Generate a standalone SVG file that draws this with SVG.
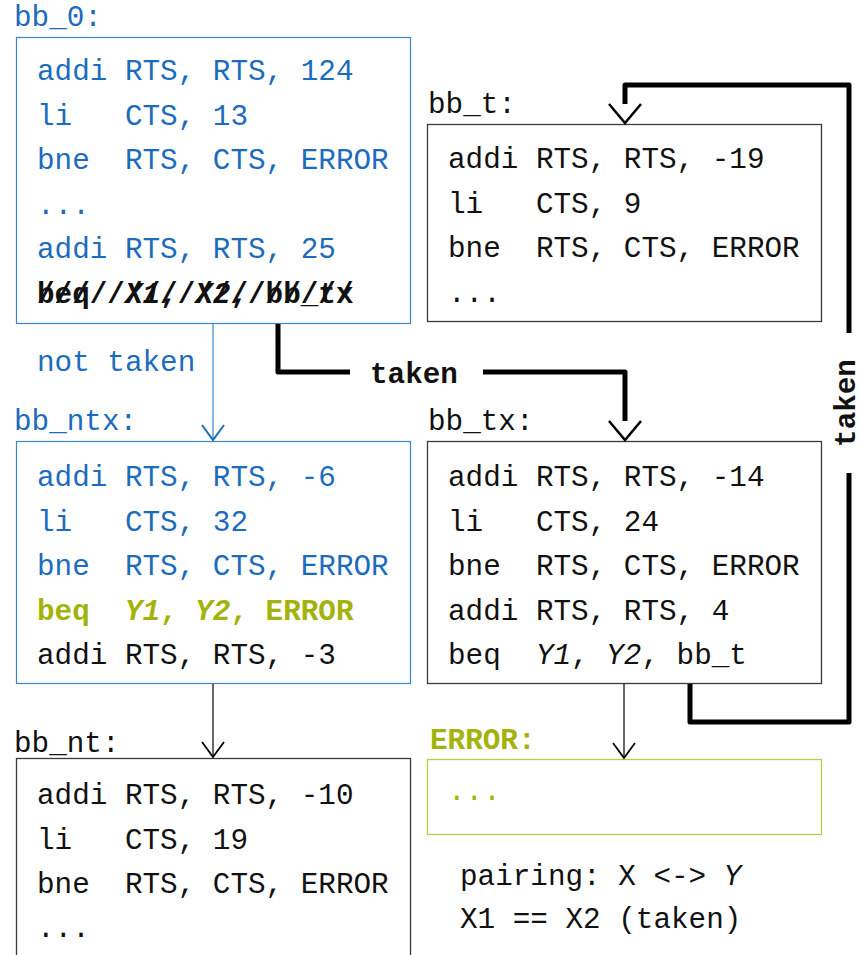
<svg xmlns="http://www.w3.org/2000/svg" width="862" height="955" viewBox="0 0 862 955">
<style>
text{font-family:"Liberation Mono","DejaVu Sans Mono",monospace;font-size:29.3px;white-space:pre;fill:#111}
.b{fill:#1c6bbd}
.g{fill:#a3b30d;font-weight:bold}
.bold{font-weight:bold}
.it{font-style:italic}
.box{fill:#fff;stroke:#3a3a3a;stroke-width:1.3}
.bbox{fill:#fff;stroke:#3a85cf;stroke-width:1.2}
.gbox{fill:#fff;stroke:#bccb4a;stroke-width:1.3}
.thick{fill:none;stroke:#000;stroke-width:5;stroke-linejoin:round}
.thin{fill:none;stroke:#000;stroke-width:1.2}
.head{fill:none;stroke:#000;stroke-width:2.5}
.headthin{fill:none;stroke:#000;stroke-width:1.8}
</style>
<rect width="862" height="955" fill="#fff"/>

<g id="bb_0">
<text class="b" x="14" y="26">bb_0:</text>
<rect class="bbox" x="16.5" y="37.5" width="394" height="286"/>
<text class="b" x="37" y="80">addi RTS, RTS, 124</text>
<text class="b" x="37" y="124.5">li   CTS, 13</text>
<text class="b" x="37" y="169">bne  RTS, CTS, ERROR</text>
<text class="b" x="37" y="213.5">...</text>
<text class="b" x="37" y="258">addi RTS, RTS, 25</text>
<text class="bold" x="37" y="302.5">beq  <tspan class="it">X1</tspan>, <tspan class="it">X2</tspan>, bb_tx<tspan x="37">//////////////////</tspan></text>
</g>

<g id="bb_t">
<text x="428" y="113">bb_t:</text>
<rect class="box" x="427.5" y="124.5" width="394" height="197"/>
<text x="448" y="168">addi RTS, RTS, -19</text>
<text x="448" y="212.5">li   CTS, 9</text>
<text x="448" y="257">bne  RTS, CTS, ERROR</text>
<text x="448" y="301.5">...</text>
</g>

<g id="bb_ntx">
<text class="b" x="14" y="430">bb_ntx:</text>
<rect class="bbox" x="16.5" y="441.5" width="394" height="242"/>
<text class="b" x="37" y="486">addi RTS, RTS, -6</text>
<text class="b" x="37" y="530.5">li   CTS, 32</text>
<text class="b" x="37" y="575">bne  RTS, CTS, ERROR</text>
<text class="g" x="37" y="619.5">beq  <tspan class="it">Y1</tspan>, <tspan class="it">Y2</tspan>, ERROR</text>
<text x="37" y="664">addi RTS, RTS, -3</text>
</g>

<g id="bb_tx">
<text x="428" y="430">bb_tx:</text>
<rect class="box" x="427.5" y="441.5" width="394" height="242"/>
<text x="448" y="486">addi RTS, RTS, -14</text>
<text x="448" y="530.5">li   CTS, 24</text>
<text x="448" y="575">bne  RTS, CTS, ERROR</text>
<text x="448" y="619.5">addi RTS, RTS, 4</text>
<text x="448" y="664">beq  <tspan class="it">Y1</tspan>, <tspan class="it">Y2</tspan>, bb_t</text>
</g>

<g id="bb_nt">
<text x="14" y="752">bb_nt:</text>
<rect class="box" x="16.5" y="758.5" width="394" height="220"/>
<text x="37" y="804">addi RTS, RTS, -10</text>
<text x="37" y="848.5">li   CTS, 19</text>
<text x="37" y="893">bne  RTS, CTS, ERROR</text>
<text x="37" y="937">...</text>
</g>

<g id="ERROR">
<text class="g" x="430" y="749">ERROR:</text>
<rect class="gbox" x="427.5" y="759.5" width="394" height="75"/>
<text style="fill:#a3b30d" x="448" y="800">...</text>
</g>

<g id="note">
<text x="460" y="885">pairing: X &lt;-&gt; <tspan class="it">Y</tspan></text>
<text x="460" y="928">X1 == X2 (taken)</text>
</g>

<g id="connectors">
<line x1="213" y1="324" x2="213" y2="440" stroke="#3a85cf" stroke-width="1.2"/>
<polyline points="202,425 213,440 224,425" fill="none" stroke="#1c6bbd" stroke-width="2"/>
<text class="b" x="37" y="371">not taken</text>

<line class="thin" x1="213" y1="684" x2="213" y2="757"/>
<polyline class="headthin" points="202,742 213,757 224,742"/>

<line class="thin" x1="624" y1="684" x2="624" y2="758"/>
<polyline class="headthin" points="613,743 624,758 635,743"/>

<path class="thick" d="M278,324 V372 H350"/>
<path class="thick" d="M483,372 H625 V421"/>
<polyline class="head" points="609,421 625,440 641,421"/>
<text class="bold" x="370" y="383">taken</text>

<path class="thick" d="M690,684 V722 H849 V473"/>
<path class="thick" d="M849,333 V85 H625 V104"/>
<polyline class="head" points="609,104 625,123 641,104"/>
<text class="bold" transform="translate(855,403) rotate(-90)" text-anchor="middle" x="0" y="0">taken</text>
</g>
</svg>
